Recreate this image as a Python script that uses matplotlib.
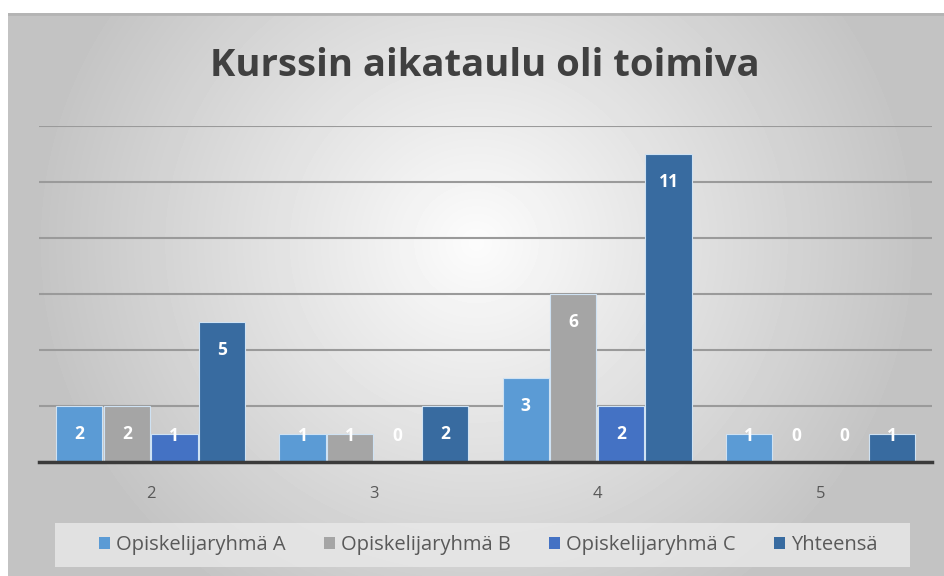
import numpy as np
import matplotlib.pyplot as plt
from matplotlib.patches import Rectangle

categories = ["2", "3", "4", "5"]
series_names = ["Opiskelijaryhmä A", "Opiskelijaryhmä B", "Opiskelijaryhmä C", "Yhteensä"]
group_a = [2, 1, 3, 1]
group_b = [2, 1, 6, 0]
group_c = [1, 0, 2, 0]
total = [5, 2, 11, 1]
title = "Kurssin aikataulu oli toimiva"

colors = ["#5b9bd5", "#a5a5a5", "#4472c4", "#386ba0"]

W, H = 944, 576
fig = plt.figure(figsize=(W / 100, H / 100), dpi=100)
fig.patch.set_facecolor("white")

# background gradient of the chart area
bg = fig.add_axes([8 / W, 0, (W - 8) / W, (H - 13) / H])
yy, xx = np.mgrid[0:563, 0:936]
t = np.sqrt(((xx - 468) / 500.0) ** 2 + ((yy - 230) / 480.0) ** 2)
shade = np.clip(252 - 64 * t, 196, 252) / 255.0
bg.imshow(shade, cmap="gray", vmin=0, vmax=1, aspect="auto", interpolation="bilinear")
bg.axhline(0, color="#b4b4b4", lw=2)
bg.set_axis_off()

ax = fig.add_axes([39 / W, (H - 462) / H, (932 - 39) / W, (462 - 126) / H])
ax.patch.set_alpha(0)

x = np.arange(len(categories))
series = [group_a, group_b, group_c, total]
step = 0.213
for i, vals in enumerate(series):
    pos = x + (i - 1.5) * step
    ax.bar(pos, vals, width=0.207, color=colors[i], edgecolor="#cfe2f3",
           linewidth=0.8, zorder=3, label=series_names[i])
    for px, v in zip(pos, vals):
        ax.text(px, max(v - 1, 0.93), str(v), ha="center", va="center",
                color="white", fontsize=12.5, fontweight="bold",
                family="Open Sans", zorder=4)

ax.set_xlim(-0.5, 3.5)
ax.set_ylim(0, 12)
ax.set_yticks([2, 4, 6, 8, 10, 12])
ax.yaxis.grid(True, color="#9a9a9a", lw=1.5, zorder=1)
ax.tick_params(left=False, labelleft=False, bottom=False)
ax.set_xticks(x)
ax.set_xticklabels(categories, color="#595959", fontsize=12, family="Open Sans")
ax.tick_params(axis="x", pad=14)
for s in ["left", "right", "top"]:
    ax.spines[s].set_visible(False)
ax.spines["bottom"].set_color("#3a3a3a")
ax.spines["bottom"].set_linewidth(2.5)
ax.spines["bottom"].set_zorder(5)

fig.text(485 / W, 1 - 66 / H, title, ha="center", va="center",
         fontsize=27.5, fontweight="bold", color="#404040", family="Open Sans")

# legend box
fig.patches.append(Rectangle((55 / W, (H - 567) / H), 855 / W, 44 / H,
                             transform=fig.transFigure, facecolor="#e9e9e9",
                             edgecolor="none", alpha=0.8, zorder=1))
leg = fig.legend(loc="center", bbox_to_anchor=(488 / W, 1 - 545 / H),
                 ncol=4, frameon=False, handlelength=0.55,
                 handleheight=0.55, handletextpad=0.3, columnspacing=1.9,
                 borderaxespad=0, prop={"family": "Open Sans", "size": 14.5})
for txt in leg.get_texts():
    txt.set_color("#595959")
for h in leg.legend_handles:
    h.set_edgecolor("none")

fig.savefig("out.png", dpi=100)
